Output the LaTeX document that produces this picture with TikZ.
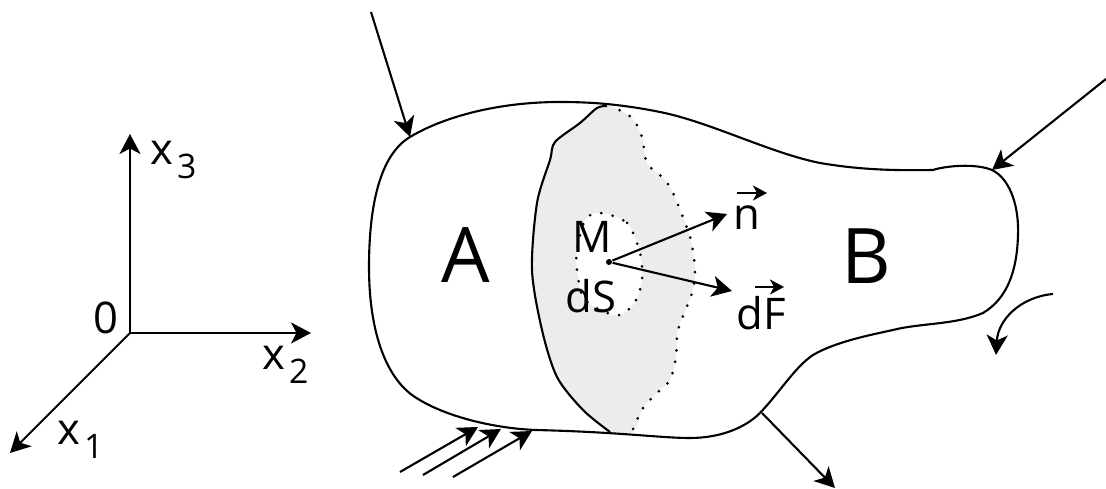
\documentclass[tikz,border=0pt]{standalone}
\usepackage{fontspec}
\setmainfont{Open Sans}
\usetikzlibrary{arrows.meta,positioning}
\newcommand{\axsub}[1]{\kern0.08em\raisebox{-0.3em}{\fontsize{9.6}{12}\selectfont #1}}
\tikzset{
  lab/.style={inner sep=0pt, font=\fontsize{12.4}{14}\selectfont},
  biglab/.style={inner sep=0pt, font=\fontsize{21.8}{24}\selectfont},
  line/.style={line width=0.6pt},
  force/.style={line width=0.6pt, -{Stealth[length=2mm,width=2.1mm,inset=0.55mm]}},
  vecbar/.style={line width=0.5pt, -{Stealth[length=1.4mm,width=1.5mm,inset=0.4mm]}},
  dotline/.style={line width=0.85pt, line cap=round, dash pattern=on 0pt off 3.3pt},
}

\begin{document}
\begin{tikzpicture}[x=0.01cm,y=-0.01cm]
  \useasboundingbox (0,0) rectangle (1106,489);
  % axes
  \coordinate (o)  at (130,333);
  \coordinate (e1) at (10,453);
  \coordinate (e2) at (311,333);
  \coordinate (e3) at (130,134);
  \draw[force] (o) -- (e1);
  \draw[force] (o) -- (e2);
  \draw[force] (o) -- (e3);
  \node[lab]              (zero) at (106,318) {0};
  \node[lab,anchor=base west] (x1) at (57,445)  {x\axsub{1}};
  \node[lab,anchor=base west] (x2) at (262,370) {x\axsub{2}};
  \node[lab,anchor=base west] (x3) at (150,165) {x\axsub{3}};
  % section
  \fill[gray!15] plot[smooth cycle] coordinates {(607,106) (597,108) (580,123) (555,142)
    (550,160) (537,203) (532,270) (542,330) (557,377) (583,410) (610,432)
    (633,432) (643,408) (657,393) (670,380) (676,357) (678,330) (692,293)
    (695,270) (690,237) (673,193) (663,178) (647,163) (642,137) (632,118) (613,107)};
  \draw[line] plot[smooth] coordinates {(607,106) (597,108) (580,123) (555,142)
    (550,160) (537,203) (532,270) (542,330) (557,377) (583,410) (610,432)};
  \draw[dotline] plot[smooth] coordinates {(633,429) (643,408) (657,393) (670,380)
    (676,357) (678,330) (692,293) (695,270) (690,237) (673,193) (663,178)
    (647,163) (642,137) (632,118) (613,107)};
  \draw[dotline, fill=white] plot[smooth cycle] coordinates {(600,213) (627,223) (640,253)
    (642,280) (635,302) (620,315) (600,310) (583,297) (577,270) (577,250) (585,220)};
  % body
  \draw[line] (410,137) .. controls (445,116) and (500,102) .. (560,102)
    .. controls (590,102) and (620,104) .. (660,112)
    .. controls (710,122) and (770,153) .. (820,163)
    .. controls (850,168) and (880,171) .. (933,170)
    .. controls (945,166) and (975,163) .. (992,170)
    .. controls (1012,180) and (1019,210) .. (1018,235)
    .. controls (1017,270) and (1008,298) .. (983,313)
    .. controls (955,325) and (920,323) .. (893,330)
    .. controls (870,335) and (835,342) .. (813,355)
    .. controls (795,367) and (780,392) .. (760,413)
    .. controls (745,428) and (720,438) .. (690,438)
    .. controls (660,438) and (620,432) .. (535,430)
    .. controls (490,428) and (440,415) .. (412,395)
    .. controls (385,375) and (369,330) .. (369,267)
    .. controls (369,205) and (380,155) .. (410,137) -- cycle;
  % labels
  \node[biglab] (A) at (466,255) {A};
  \node[biglab] (B) at (866,256) {B};
  \node[lab]    (M)  at (592,237) {M};
  \node[lab]    (dS) at (591,296) {dS};
  \node[lab]    (n)  at (747,218) {n};
  \node[lab]    (dF) at (761,313) {dF};
  % vectors at M
  \node[circle, fill=black, inner sep=0pt, minimum size=0.6mm] (pt) at (609,262) {};
  \coordinate (ntip) at (727,214);
  \coordinate (ftip) at (732,291);
  \draw[force] (pt) -- (ntip);
  \draw[force] (pt) -- (ftip);
  \coordinate (nbarl) at (737,193);
  \coordinate (nbarr) at (767,193);
  \coordinate (fbarl) at (755,287);
  \coordinate (fbarr) at (784,287);
  \draw[vecbar] (nbarl) -- (nbarr);
  \draw[vecbar] (fbarl) -- (fbarr);
  % loads
  \coordinate (t1s) at (371,12);   \coordinate (t1e) at (410,137);
  \coordinate (t2s) at (1106,79);  \coordinate (t2e) at (992,170);
  \coordinate (t3s) at (762,413);  \coordinate (t3e) at (835,488);
  \coordinate (p1s) at (400,472);  \coordinate (p1e) at (478,427);
  \coordinate (p2s) at (423,475);  \coordinate (p2e) at (501,429);
  \coordinate (p3s) at (453,477);  \coordinate (p3e) at (532,431);
  \coordinate (ms)  at (1053,294); \coordinate (me)  at (996,355);
  \draw[force] (t1s) -- (t1e);
  \draw[force] (t2s) -- (t2e);
  \draw[force] (t3s) -- (t3e);
  \draw[force] (p1s) -- (p1e);
  \draw[force] (p2s) -- (p2e);
  \draw[force] (p3s) -- (p3e);
  \draw[force] (ms) .. controls (1020,297) and (998,320) .. (me);
\end{tikzpicture}
\end{document}
